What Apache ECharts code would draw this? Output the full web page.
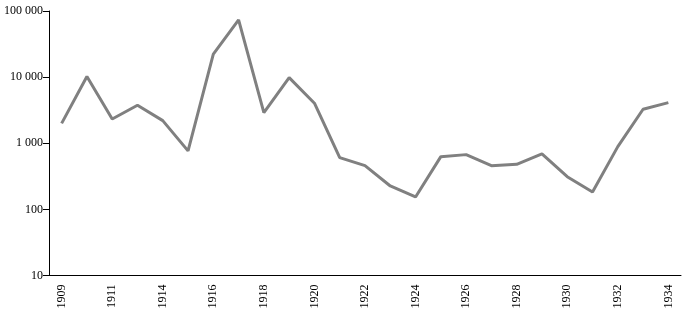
<!DOCTYPE html>
<html>
<head>
<meta charset="utf-8">
<script src="https://cdn.jsdelivr.net/npm/echarts@6/dist/echarts.min.js"></script>
<style>html,body{margin:0;padding:0;background:#fff}#c{width:690px;height:316px}</style>
</head>
<body>
<div id="c"></div>
<script>
const years = ['1909','1910','1911','1913','1914','1915','1916','1917','1918','1919','1920','1921','1922','1923','1924','1925','1926','1927','1928','1929','1930','1931','1932','1933','1934'];
const values = [2000,10200,2330,3760,2200,766,22200,73300,2900,9830,4030,606,458,226,154,627,673,458,481,689,312,183,889,3270,4110];

const font = '"Liberation Serif", "DejaVu Serif", serif';
const chart = echarts.init(document.getElementById('c'));
chart.setOption({
  animation: false,
  grid: {left: 49, right: 9, top: 11, bottom: 40.5, containLabel: false},
  xAxis: {
    type: 'category',
    data: years,
    boundaryGap: true,
    axisLine: {lineStyle: {color: '#000', width: 1}},
    axisTick: {interval: 0, length: 6, lineStyle: {color: '#000'}},
    axisLabel: {interval: 1, rotate: 90, color: '#000', fontFamily: font, fontSize: 12, margin: 9}
  },
  yAxis: {
    type: 'log',
    logBase: 10,
    min: 10,
    max: 100000,
    axisLine: {show: true, lineStyle: {color: '#000', width: 1}},
    axisTick: {show: true, length: 6, lineStyle: {color: '#000'}},
    splitLine: {show: false},
    minorTick: {show: false},
    axisLabel: {
      color: '#000', fontFamily: font, fontSize: 12, margin: 6,
      formatter: v => String(Math.round(v)).replace(/\B(?=(\d{3})+(?!\d))/g, ' ')
    }
  },
  series: [{
    type: 'line',
    data: values,
    showSymbol: false,
    symbol: 'none',
    lineStyle: {color: '#808080', width: 3},
    itemStyle: {color: '#808080'}
  }]
});
</script>
</body>
</html>
